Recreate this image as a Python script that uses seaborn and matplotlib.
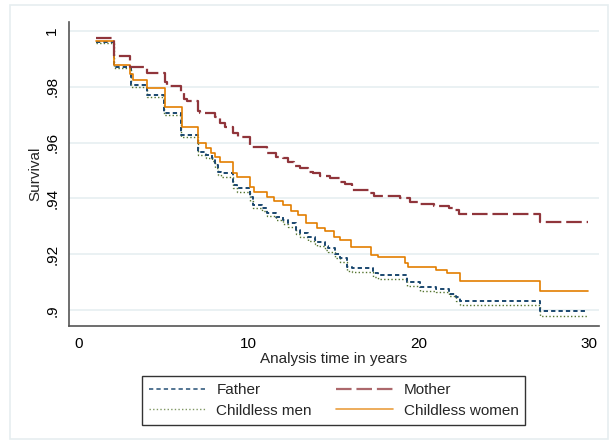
import matplotlib
matplotlib.use("Agg")
import matplotlib.pyplot as plt
import seaborn as sns
import pandas as pd
from matplotlib.lines import Line2D
from matplotlib.patches import Rectangle

# ---- data ----
father_t = [1.0, 2.06, 3.05, 4.04, 5.0, 6.0, 7.05, 7.5, 7.85, 8.0, 8.2, 8.4, 9.1, 9.3, 10.1,
            10.25, 10.8, 11.1, 11.6, 12.0, 12.3, 12.8, 13.0, 13.5, 13.9, 14.0, 14.5, 14.7,
            15.1, 15.4, 15.8, 16.1, 17.3, 17.6, 19.3, 20.1, 21.0, 21.8, 22.2, 22.43, 27.13, 30.0]
father_s = [.9958, .9869, .9805, .9770, .9704, .9627, .9567, .9555, .9544, .9520, .9494, .9490,
            .9448, .9436, .9404, .9376, .9365, .9347, .9335, .9322, .9312, .9287, .9276, .9262,
            .9251, .9244, .9229, .9222, .9200, .9186, .9154, .9150, .9133, .9125, .9100, .9082,
            .9078, .9060, .9046, .9033, .8998, .8998]

men_t = [1.0, 2.06, 3.05, 4.04, 5.0, 6.0, 7.05, 7.5, 7.85, 8.0, 8.2, 8.4, 9.1, 9.3, 10.1,
         10.25, 10.8, 11.1, 11.6, 12.0, 12.3, 12.8, 13.0, 13.5, 13.9, 14.0, 14.5, 14.7,
         15.1, 15.4, 15.8, 16.1, 17.3, 17.6, 19.3, 20.1, 21.0, 21.8, 22.2, 22.43, 27.13, 30.0]
men_s = [.9956, .9865, .9800, .9764, .9698, .9621, .9557, .9545, .9535, .9510, .9484, .9478,
         .9438, .9424, .9392, .9366, .9355, .9336, .9322, .9310, .9298, .9274, .9262, .9248,
         .9238, .9230, .9215, .9208, .9186, .9172, .9142, .9137, .9118, .9112, .9086, .9068,
         .9064, .9050, .9035, .9018, .8979, .8979]

mother_t = [1.0, 2.06, 3.0, 4.04, 5.08, 5.2, 6.02, 6.2, 6.35, 7.04, 7.15, 8.0, 8.3, 8.6, 9.1,
            9.4, 10.1, 11.1, 11.6, 12.0, 12.3, 12.7, 13.0, 13.5, 13.8, 14.2, 14.8, 15.4, 15.7,
            16.1, 17.1, 17.4, 18.9, 19.5, 20.0, 20.9, 21.8, 22.0, 22.4, 27.13, 30.0]
mother_s = [.9973, .9910, .9871, .9850, .9815, .9802, .9780, .9755, .9748, .9712, .9704, .9690,
            .9670, .9655, .9634, .9620, .9584, .9562, .9550, .9544, .9530, .9515, .9508, .9494,
            .9490, .9480, .9472, .9458, .9450, .9430, .9419, .9408, .9401, .9386, .9380, .9372,
            .9365, .9358, .9346, .9316, .9316]

women_t = [1.0, 2.06, 3.02, 3.2, 4.04, 5.08, 6.06, 7.03, 7.5, 7.8, 8.0, 8.3, 9.1, 9.3, 10.1,
           10.3, 11.1, 11.5, 12.0, 12.5, 12.9, 13.4, 14.0, 14.5, 15.0, 15.4, 16.0, 17.2, 17.6,
           19.2, 19.4, 21.0, 21.7, 22.43, 27.13, 30.0]
women_s = [.9964, .9877, .9844, .9823, .9794, .9728, .9656, .9598, .9580, .9562, .9548, .9530,
           .9490, .9476, .9440, .9422, .9404, .9390, .9376, .9355, .9340, .9312, .9293, .9282,
           .9262, .9251, .9226, .9197, .9190, .9170, .9154, .9146, .9132, .9105, .9069, .9069]

yticks = [0.9, 0.92, 0.94, 0.96, 0.98, 1.0]
ytick_labels = [".9", ".92", ".94", ".96", ".98", "1"]
xticks = [0, 10, 20, 30]

colors = {"Father": "#1a476f", "Mother": "#90353b",
          "Childless men": "#55752f", "Childless women": "#e37e00"}
styles = {"Father": dict(lw=1.4, dashes=(2.2, 1.6)),
          "Mother": dict(lw=1.6, dashes=(7, 2.2)),
          "Childless men": dict(lw=1.0, dashes=(1, 1.6)),
          "Childless women": dict(lw=1.2, dashes=())}

series = {"Father": (father_t, father_s), "Mother": (mother_t, mother_s),
          "Childless men": (men_t, men_s), "Childless women": (women_t, women_s)}

sns.set_theme(style="white")
plt.rcParams["font.family"] = ["Liberation Sans", "DejaVu Sans"]

fig = plt.figure(figsize=(6.11, 4.41), dpi=100)
fig.patches.append(Rectangle((10 / 611, 2 / 441), 598 / 611, 434 / 441,
                             transform=fig.transFigure, fill=False,
                             edgecolor="#e6eef0", lw=1.2))
ax = fig.add_axes([69 / 611, 1 - 326 / 441, 530 / 611, 304 / 441])

for name in ["Childless men", "Father", "Childless women", "Mother"]:
    t, s = series[name]
    df = pd.DataFrame({"t": t, "s": s})
    st = styles[name]
    sns.lineplot(data=df, x="t", y="s", ax=ax, color=colors[name], lw=st["lw"],
                 drawstyle="steps-post", estimator=None, sort=False,
                 linestyle="-" if not st["dashes"] else (0, st["dashes"]))

ax.set_xlim(-0.57, 30.62)
ax.set_ylim(0.8944, 1.0031)
ax.set_xticks(xticks)
ax.set_xticklabels([str(x) for x in xticks], fontsize=11)
ax.set_yticks(yticks)
ax.set_yticklabels(ytick_labels, rotation=90, va="center", fontsize=11)
ax.tick_params(axis="both", direction="out", length=5, width=1, color="#333333",
               labelcolor="black", pad=3)
ax.tick_params(axis="y", length=5.5, pad=1.5)
ax.yaxis.grid(True, color="#e8f0f2", lw=1.3)
ax.xaxis.grid(False)
ax.set_axisbelow(True)
for sp in ["top", "right"]:
    ax.spines[sp].set_visible(False)
for sp in ["left", "bottom"]:
    ax.spines[sp].set_color("#555555")
    ax.spines[sp].set_linewidth(1.2)
ax.set_xlabel("Analysis time in years", fontsize=11, labelpad=1)
ax.set_ylabel("Survival", fontsize=11)
ax.yaxis.set_label_coords(-0.05, 0.5)

handles = []
order = ["Father", "Childless men", "Mother", "Childless women"]
for name in order:
    st = styles[name]
    ls = "-" if not st["dashes"] else (0, st["dashes"])
    handles.append(Line2D([], [], color=colors[name], lw=st["lw"], linestyle=ls, alpha=0.75))
leg = fig.legend(handles, order, ncol=2, loc="upper center",
                 bbox_to_anchor=(333.8 / 611, 1 - 376 / 441), bbox_transform=fig.transFigure,
                 fontsize=11, handlelength=3.7, handletextpad=0.7, columnspacing=1.6,
                 labelspacing=0.45, borderpad=0.45, fancybox=False, framealpha=1,
                 borderaxespad=0)
leg.get_frame().set_edgecolor("#333333")
leg.get_frame().set_linewidth(1.0)

fig.savefig("out.png", dpi=100)
